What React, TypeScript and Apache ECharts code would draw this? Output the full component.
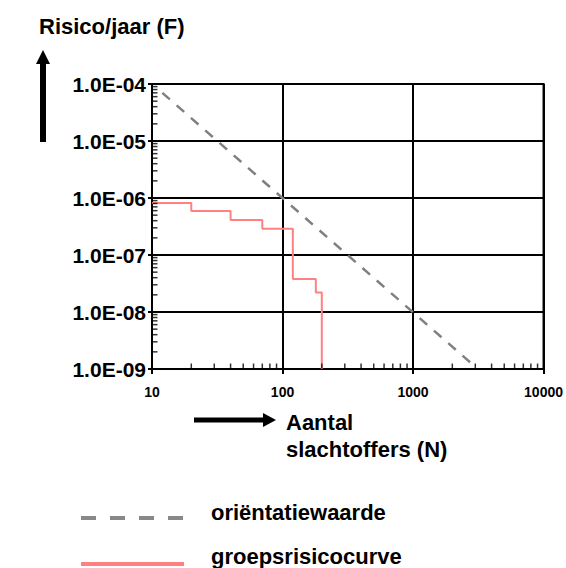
import React, { useEffect, useRef } from "react";
import * as echarts from "echarts";

// ---- data ----
const xTickLabels = ["10", "100", "1000", "10000"];
const yTickLabels = ["1.0E-09", "1.0E-08", "1.0E-07", "1.0E-06", "1.0E-05", "1.0E-04"];

// groepsrisicocurve (step curve): N values and F values
const groepN = [10, 20, 40, 70, 120, 180, 200];
const groepF = [8.2e-7, 5.9e-7, 4.1e-7, 2.9e-7, 3.8e-8, 2.2e-8, 1e-9];

// oriëntatiewaarde (straight line on log-log)
const orientN = [12, 2750];
const orientF = [7.0e-5, 1.3e-9];

// minor tick multipliers per decade
const minorMultipliers = [2, 3, 4, 5, 6, 7, 8, 9];
const xDecades = [10, 100, 1000];
const yDecades = [1e-9, 1e-8, 1e-7, 1e-6, 1e-5];

const FONT = "'Liberation Sans', Arial, sans-serif";

export default function App() {
  const ref = useRef<HTMLDivElement>(null);

  useEffect(() => {
    if (!ref.current) return;
    const chart = echarts.init(ref.current, undefined, { renderer: "svg" });

    const xMinor: number[][] = [];
    xDecades.forEach((d) => minorMultipliers.forEach((m) => xMinor.push([d * m, 1e-9])));
    const yMinor: number[][] = [];
    yDecades.forEach((d) => minorMultipliers.forEach((m) => yMinor.push([10, d * m])));

    const gray = "#808080";
    const red = "#ff8080";

    const option: any = {
      animation: false,
      textStyle: { fontFamily: FONT },
      grid: {
        left: 152,
        top: 84,
        width: 394,
        height: 285,
        show: true,
        borderColor: "#000",
        borderWidth: 2,
        backgroundColor: "transparent",
      },
      xAxis: {
        type: "log",
        logBase: 10,
        min: 10,
        max: 10000,
        splitNumber: 3,
        axisLine: { show: true, lineStyle: { color: "#000", width: 2 } },
        axisTick: { show: true, inside: false, length: 5, lineStyle: { color: "#000", width: 2 } },
        splitLine: { show: true, lineStyle: { color: "#000", width: 2 } },
        axisLabel: {
          show: true,
          showMinLabel: true,
          showMaxLabel: true,
          margin: 16,
          fontSize: 14,
          fontWeight: "bold",
          color: "#000",
          fontFamily: FONT,
          formatter: (v: number) => xTickLabels[Math.round(Math.log10(v)) - 1] ?? "",
        },
      },
      yAxis: {
        type: "log",
        logBase: 10,
        min: 1e-9,
        max: 1e-4,
        splitNumber: 5,
        axisLine: { show: true, lineStyle: { color: "#000", width: 2 } },
        axisTick: { show: true, inside: false, length: 4, lineStyle: { color: "#000", width: 2 } },
        splitLine: { show: true, lineStyle: { color: "#000", width: 2 } },
        axisLabel: {
          show: true,
          showMinLabel: true,
          showMaxLabel: true,
          margin: 6,
          fontSize: 21,
          fontWeight: "bold",
          color: "#000",
          fontFamily: FONT,
          formatter: (v: number) => yTickLabels[Math.round(Math.log10(v)) + 9] ?? "",
        },
      },
      series: [
        {
          type: "scatter",
          name: "xminor",
          silent: true,
          clip: false,
          data: xMinor,
          symbol: "rect",
          symbolSize: [1.5, 5],
          symbolOffset: [0, -3],
          itemStyle: { color: "#000" },
          z: 5,
        },
        {
          type: "scatter",
          name: "yminor",
          silent: true,
          clip: false,
          data: yMinor,
          symbol: "rect",
          symbolSize: [5, 1.5],
          symbolOffset: [3, 0],
          itemStyle: { color: "#000" },
          z: 5,
        },
        {
          type: "line",
          name: "oriëntatiewaarde",
          data: orientN.map((n, i) => [n, orientF[i]]),
          symbol: "none",
          lineStyle: { color: gray, width: 2.5, type: [10, 9] },
          z: 3,
        },
        {
          type: "line",
          name: "groepsrisicocurve",
          step: "end",
          data: groepN.map((n, i) => [n, groepF[i]]),
          symbol: "none",
          lineStyle: { color: red, width: 2 },
          z: 4,
        },
      ],
      graphic: [
        {
          type: "text",
          x: 39,
          y: 26,
          style: { text: "Risico/jaar (F)", font: `bold 22px ${FONT}`, fill: "#000", verticalAlign: "middle", align: "left" },
        },
        // up arrow
        { type: "line", shape: { x1: 43, y1: 62, x2: 43, y2: 142 }, style: { stroke: "#000", lineWidth: 6 } },
        { type: "polygon", shape: { points: [[43, 50], [50, 64], [36, 64]] }, style: { fill: "#000" } },
        // right arrow
        { type: "line", shape: { x1: 194, y1: 420, x2: 265, y2: 420 }, style: { stroke: "#000", lineWidth: 5 } },
        { type: "polygon", shape: { points: [[276, 420], [263, 413], [263, 427]] }, style: { fill: "#000" } },
        {
          type: "text",
          x: 286,
          y: 422,
          style: { text: "Aantal", font: `bold 22px ${FONT}`, fill: "#000", verticalAlign: "middle", align: "left" },
        },
        {
          type: "text",
          x: 286,
          y: 449,
          style: { text: "slachtoffers (N)", font: `bold 22px ${FONT}`, fill: "#000", verticalAlign: "middle", align: "left" },
        },
        // legend
        { type: "line", shape: { x1: 81, y1: 518, x2: 184, y2: 518 }, style: { stroke: "#888", lineWidth: 4, lineDash: [15, 14] } },
        {
          type: "text",
          x: 211,
          y: 512,
          style: { text: "oriëntatiewaarde", font: `bold 22px ${FONT}`, fill: "#000", verticalAlign: "middle", align: "left" },
        },
        { type: "line", shape: { x1: 81, y1: 564, x2: 184, y2: 564 }, style: { stroke: red, lineWidth: 4 } },
        {
          type: "text",
          x: 211,
          y: 556,
          style: { text: "groepsrisicocurve", font: `bold 22px ${FONT}`, fill: "#000", verticalAlign: "middle", align: "left" },
        },
      ],
    };

    chart.setOption(option);
    return () => chart.dispose();
  }, []);

  return (
    <div
      ref={ref}
      style={{ position: "absolute", left: 0, top: 0, width: 566, height: 568, background: "#fff" }}
    />
  );
}
